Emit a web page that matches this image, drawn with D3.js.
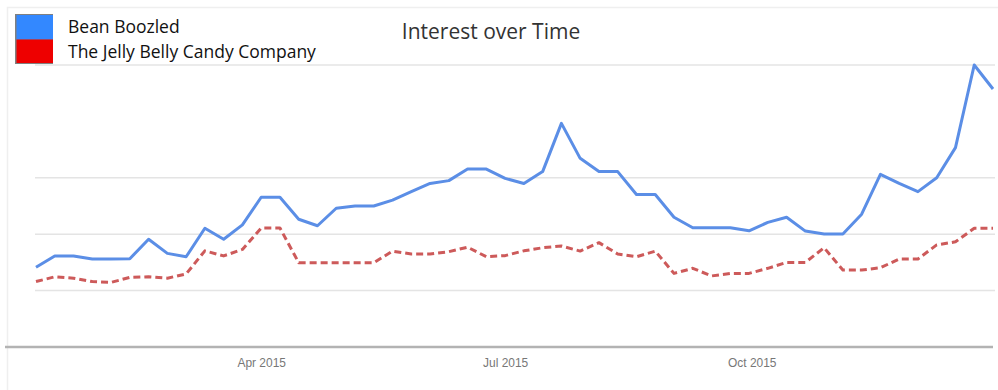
<!DOCTYPE html>
<html>
<head>
<meta charset="utf-8">
<script src="https://cdn.jsdelivr.net/npm/d3@7"></script>
<style>
  html, body { margin: 0; padding: 0; background: #fff; }
  svg { display: block; }
</style>
</head>
<body>
<svg id="chart" width="998" height="390"></svg>
<script>
// ---- data ----
const seriesNames = ["Bean Boozled", "The Jelly Belly Candy Company"];
const firstWeek = new Date(2015, 0, 7);
const weekCount = 52;
const beanBoozled = [
  28.3, 32.3, 32.3, 31.2, 31.2, 31.3, 38.2, 33.2, 32.0, 42.1,
  38.2, 43.3, 53.1, 53.1, 45.3, 43.0, 49.2, 50.0, 50.0, 52.1,
  55.1, 58.0, 59.0, 63.1, 63.1, 59.8, 58.0, 62.2, 79.3, 66.9,
  62.2, 62.2, 54.1, 54.1, 46.0, 42.3, 42.3, 42.3, 41.2, 44.2,
  46.0, 41.1, 40.1, 40.1, 47.1, 61.2, 58.0, 55.1, 60.0, 70.7,
  100, 91.5
];
const jellyBelly = [
  23.2, 24.9, 24.4, 23.2, 22.9, 24.7, 24.9, 24.4, 25.9, 34.1,
  32.3, 34.6, 42.2, 42.2, 29.9, 29.9, 29.9, 29.9, 29.9, 34.0,
  33.0, 33.0, 33.8, 35.4, 32.0, 32.4, 34.1, 35.2, 35.8, 34.0,
  37.0, 33.0, 32.0, 34.0, 26.1, 27.9, 25.2, 26.1, 26.1, 27.9,
  30.0, 30.0, 35.2, 27.3, 27.3, 28.1, 31.2, 31.2, 36.2, 37.3,
  42.1, 42.1
];
const tickDates = [new Date(2015, 3, 1), new Date(2015, 6, 1), new Date(2015, 9, 1)];
const gridValues = [20, 40, 60, 100];
const title = "Interest over Time";

// ---- build ----
const weeks = d3.range(weekCount).map(i => d3.timeDay.offset(firstWeek, 7 * i));
const svg = d3.select("#chart");

const x = d3.scaleTime().domain([weeks[0], weeks[weeks.length - 1]]).range([36, 993]);
const y = d3.scaleLinear().domain([0, 100]).range([347, 65]);

// faint panel frame
svg.append("rect")
  .attr("x", 7.5).attr("y", 7.5).attr("width", 1000).attr("height", 400)
  .attr("fill", "none").attr("stroke", "#efefef").attr("stroke-width", 1.5);

// gridlines
svg.append("g").selectAll("line").data(gridValues).join("line")
  .attr("x1", 35).attr("x2", 995)
  .attr("y1", d => y(d)).attr("y2", d => y(d))
  .attr("stroke", "#e4e4e4").attr("stroke-width", 1.5);

// x axis
const xAxis = d3.axisBottom(x).tickValues(tickDates).tickFormat(d3.timeFormat("%b %Y")).tickSize(0).tickPadding(11);
const gx = svg.append("g").attr("transform", `translate(0,${y(0)})`).call(xAxis);
gx.select(".domain").remove();
gx.selectAll("text")
  .attr("fill", "#777")
  .style("font-family", "'Liberation Sans Narrow', 'Liberation Sans', Arial, sans-serif")
  .style("font-size", "13px")
  .attr("transform", "scale(0.92,1)");
svg.append("line")
  .attr("x1", 5).attr("x2", 993).attr("y1", y(0)).attr("y2", y(0))
  .attr("stroke", "#b3b3b3").attr("stroke-width", 2.5);

// lines
const line = d3.line().x((d, i) => x(weeks[i])).y(d => y(d));
svg.append("path").datum(jellyBelly)
  .attr("d", line).attr("fill", "none")
  .attr("stroke", "#cd5a5a").attr("stroke-width", 3)
  .attr("stroke-dasharray", "7,4").attr("stroke-linejoin", "round");
svg.append("path").datum(beanBoozled)
  .attr("d", line).attr("fill", "none")
  .attr("stroke", "#5b8ee6").attr("stroke-width", 3)
  .attr("stroke-linejoin", "round");

// title
svg.append("text")
  .attr("x", 491).attr("y", 39).attr("text-anchor", "middle")
  .attr("fill", "#333")
  .style("font-family", "'Open Sans', 'Noto Sans', sans-serif")
  .style("font-size", "21px")
  .text(title);

// legend
const legendColors = ["#3388ff", "#ee0000"];
const lg = svg.append("g");
lg.append("rect").attr("x", 15).attr("y", 14).attr("width", 38).attr("height", 50)
  .attr("fill", "#808080");
lg.selectAll("rect.sw").data(seriesNames).join("rect").attr("class", "sw")
  .attr("x", 16.5).attr("y", (d, i) => 15 + i * 24.5)
  .attr("width", 36.5).attr("height", (d, i) => i === 0 ? 24.5 : 23.5)
  .attr("fill", (d, i) => legendColors[i]);
lg.selectAll("text").data(seriesNames).join("text")
  .attr("x", 68).attr("y", (d, i) => 33 + i * 25)
  .attr("fill", "#111")
  .style("font-family", "'Open Sans', 'Noto Sans', sans-serif")
  .style("font-size", "17.5px")
  .text(d => d);
</script>
</body>
</html>
